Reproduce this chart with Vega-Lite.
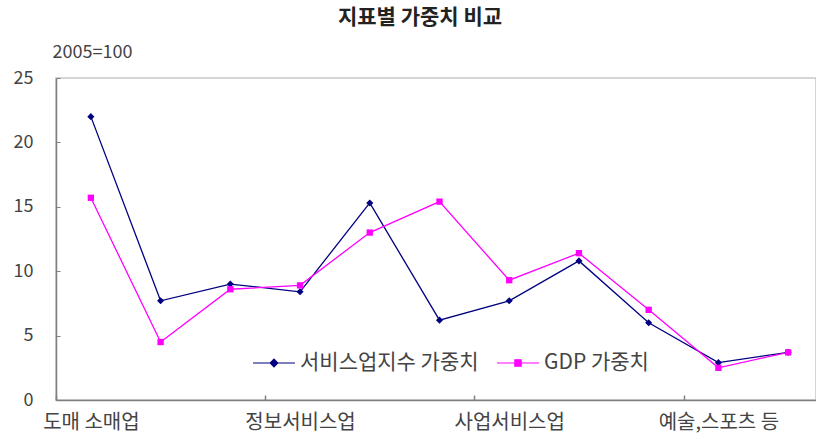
{
  "$schema": "https://vega.github.io/schema/vega-lite/v6.json",
  "width": 760,
  "height": 322,
  "autosize": {"type": "none"},
  "padding": {"left": 56, "top": 78, "right": 0, "bottom": 39},
  "background": "white",
  "config": {
    "font": "Noto Sans CJK KR",
    "view": {"stroke": "#c8c8c8", "strokeWidth": 1.5}
  },
  "title": {
    "text": "지표별 가중치 비교",
    "fontSize": 21,
    "fontWeight": "bold",
    "color": "#222222",
    "anchor": "middle",
    "dx": -16,
    "offset": 15
  },
  "data": {
    "values": [
      {"category": "도매 소매업", "series": "서비스업지수 가중치", "value": 22.0},
      {"category": "운수업", "series": "서비스업지수 가중치", "value": 7.7},
      {"category": "숙박음식점업", "series": "서비스업지수 가중치", "value": 9.0},
      {"category": "정보서비스업", "series": "서비스업지수 가중치", "value": 8.4},
      {"category": "금융보험업", "series": "서비스업지수 가중치", "value": 15.3},
      {"category": "부동산임대업", "series": "서비스업지수 가중치", "value": 6.2},
      {"category": "사업서비스업", "series": "서비스업지수 가중치", "value": 7.7},
      {"category": "교육서비스업", "series": "서비스업지수 가중치", "value": 10.8},
      {"category": "보건사회복지업", "series": "서비스업지수 가중치", "value": 6.0},
      {"category": "예술,스포츠 등", "series": "서비스업지수 가중치", "value": 2.9},
      {"category": "기타서비스업", "series": "서비스업지수 가중치", "value": 3.7},
      {"category": "도매 소매업", "series": "GDP 가중치", "value": 15.7},
      {"category": "운수업", "series": "GDP 가중치", "value": 4.5},
      {"category": "숙박음식점업", "series": "GDP 가중치", "value": 8.6},
      {"category": "정보서비스업", "series": "GDP 가중치", "value": 8.9},
      {"category": "금융보험업", "series": "GDP 가중치", "value": 13.0},
      {"category": "부동산임대업", "series": "GDP 가중치", "value": 15.4},
      {"category": "사업서비스업", "series": "GDP 가중치", "value": 9.3},
      {"category": "교육서비스업", "series": "GDP 가중치", "value": 11.4},
      {"category": "보건사회복지업", "series": "GDP 가중치", "value": 7.0},
      {"category": "예술,스포츠 등", "series": "GDP 가중치", "value": 2.5},
      {"category": "기타서비스업", "series": "GDP 가중치", "value": 3.7}
    ]
  },
  "encoding": {
    "x": {
      "field": "category",
      "type": "nominal",
      "sort": null,
      "scale": {"type": "band", "paddingInner": 0, "paddingOuter": 0, "range": [0, 767]},
      "axis": {
        "title": null,
        "labelExpr": "indexof(['도매 소매업', '정보서비스업', '사업서비스업', '예술,스포츠 등'], datum.value) >= 0 ? datum.value : ''",
        "tickOffset": -34.9,
        "labelOffset": 34.9,
        "tickOpacity": {
          "condition": {"test": "indexof(['도매 소매업', '정보서비스업', '사업서비스업', '예술,스포츠 등'], datum.value) >= 0", "value": 1},
          "value": 0
        },
        "labelAngle": 0,
        "labelFontSize": 20,
        "labelColor": "#444444",
        "labelPadding": 17,
        "labelOverlap": false,
        "labelBound": false,
        "labelFlush": false,
        "labelLimit": 0,
        "domainColor": "#808080",
        "domainWidth": 1.5,
        "tickColor": "#808080",
        "tickSize": -5,
        "tickWidth": 1.5,
        "grid": false
      }
    },
    "y": {
      "field": "value",
      "type": "quantitative",
      "scale": {"domain": [0, 25], "nice": false},
      "axis": {
        "title": "2005=100",
        "values": [0, 5, 10, 15, 20, 25],
        "grid": false,
        "domainColor": "#808080",
        "domainWidth": 1.5,
        "tickColor": "#808080",
        "tickSize": -4,
        "labelPadding": 27,
        "labelFontSize": 18,
        "labelColor": "#444444",
        "titleAngle": 0,
        "titleAlign": "left",
        "titleBaseline": "middle",
        "titleX": -4,
        "titleY": -26,
        "titleFontSize": 18,
        "titleFontWeight": "normal",
        "titleColor": "#444444"
      }
    },
    "color": {
      "field": "series",
      "type": "nominal",
      "scale": {"domain": ["서비스업지수 가중치", "GDP 가중치"], "range": ["#000080", "#FF00FF"]},
      "legend": {
        "title": null,
        "orient": "none",
        "legendX": 196,
        "legendY": 263,
        "direction": "horizontal",
        "symbolSize": 1764,
        "symbolStrokeWidth": 1.2,
        "labelFontSize": 21,
        "labelColor": "#444444",
        "labelOffset": 4,
        "labelLimit": 0,
        "columnPadding": 15,
        "encode": {
          "symbols": {
            "update": {
              "shape": {"signal": "datum.value === 'GDP 가중치' ? 'M-1,0H1M-0.15,-0.15H0.15V0.15H-0.15Z' : 'M-1,0H1M0,-0.18L0.18,0L0,0.18L-0.18,0Z'"},
              "fill": {"scale": "color", "field": "value"},
              "stroke": {"scale": "color", "field": "value"},
              "opacity": {"value": 1}
            }
          }
        }
      }
    }
  },
  "layer": [
    {"mark": {"type": "line", "strokeWidth": 1.3}},
    {
      "transform": [{"filter": "datum.series === '서비스업지수 가중치'"}],
      "mark": {"type": "point", "filled": true, "opacity": 1, "size": 50, "shape": "diamond"}
    },
    {
      "transform": [{"filter": "datum.series === 'GDP 가중치'"}],
      "mark": {"type": "point", "filled": true, "opacity": 1, "size": 40, "shape": "square"}
    }
  ]
}
